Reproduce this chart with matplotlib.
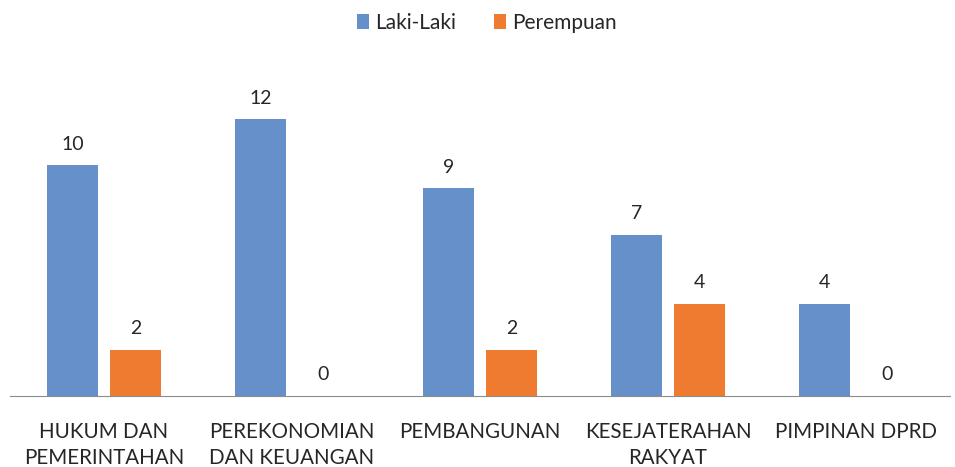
import numpy as np
import matplotlib.pyplot as plt

categories = ["HUKUM DAN\nPEMERINTAHAN", "PEREKONOMIAN\nDAN KEUANGAN", "PEMBANGUNAN",
              "KESEJATERAHAN\nRAKYAT", "PIMPINAN DPRD"]
laki = [10, 12, 9, 7, 4]
perempuan = [2, 0, 2, 4, 0]

plt.rcParams["font.family"] = ["Lato", "DejaVu Sans"]
BLUE, ORANGE = "#6590CA", "#EE7B30"

fig = plt.figure(figsize=(9.55, 4.67), dpi=100)
ax = fig.add_axes([10 / 955, 71 / 467, 940 / 955, 323 / 467])

x = np.arange(len(categories))
w = 0.27
off = 0.167
b1 = ax.bar(x - off, laki, w, color=BLUE, label="Laki-Laki")
b2 = ax.bar(x + off, perempuan, w, color=ORANGE, label="Perempuan")
for bars, vals in ((b1, laki), (b2, perempuan)):
    for r, v in zip(bars, vals):
        ax.annotate(str(v), (r.get_x() + r.get_width() / 2, v), xytext=(0, 9),
                    textcoords="offset points", ha="center", va="bottom",
                    fontsize=14, color="#262626")

ax.set_xlim(-0.5, len(categories) - 0.5)
ax.set_ylim(0, 14)
ax.set_xticks(x)
ax.set_xticklabels(categories, fontsize=14.8, color="#262626", linespacing=1.38)
ax.tick_params(axis="x", length=0, pad=19)
ax.set_yticks([])
for s in ("top", "right", "left"):
    ax.spines[s].set_visible(False)
ax.spines["bottom"].set_color("#8c8c8c")

fig.legend(handles=[b1, b2], loc="center", bbox_to_anchor=(487 / 955, 1 - 23 / 467), ncol=2,
           frameon=False, fontsize=15, handlelength=0.6, handleheight=0.7,
           columnspacing=1.8, handletextpad=0.3, labelcolor="#262626")

fig.savefig("out.png", dpi=100)
